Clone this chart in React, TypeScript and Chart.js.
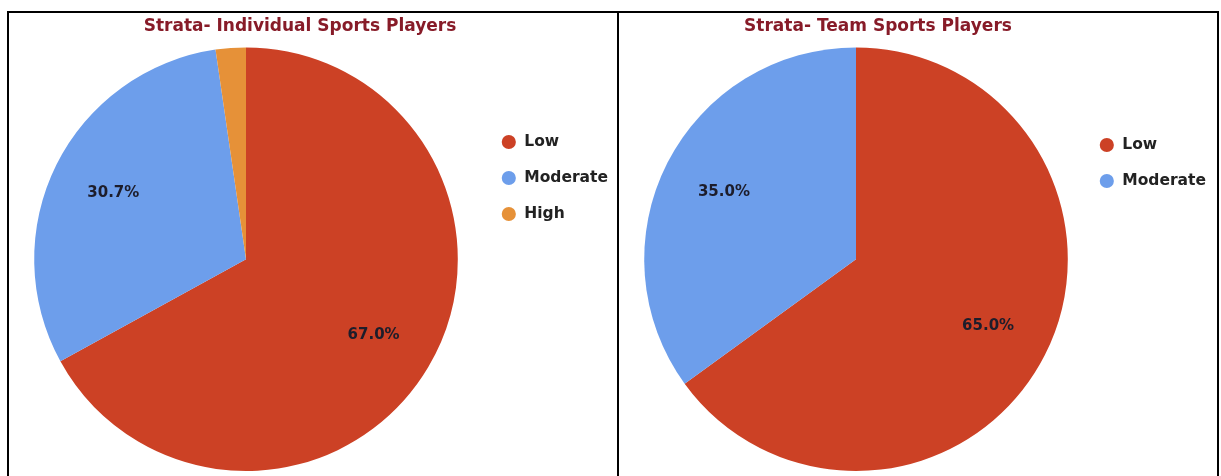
import React, { useEffect, useRef } from 'react';
import { Chart, registerables } from 'chart.js';

Chart.register(...registerables);

// ---- data ----
const categoriesIndividual = ['Low', 'Moderate', 'High'];
const valuesIndividual = [67.0, 30.7, 2.3];
const categoriesTeam = ['Low', 'Moderate'];
const valuesTeam = [65.0, 35.0];
const sliceColors = ['#cc4125', '#6d9eeb', '#e69138'];
const titleIndividual = 'Strata- Individual Sports Players';
const titleTeam = 'Strata- Team Sports Players';

const FONT = "'DejaVu Sans', 'Liberation Sans', sans-serif";
const LEGEND_FS = 15.5;
const LEGEND_PAD = 20.5;

const percentLabels = {
  id: 'percentLabels',
  afterDatasetsDraw(chart: any) {
    const ctx = chart.ctx;
    const vals = chart.data.datasets[0].data as number[];
    const total = vals.reduce((a: number, b: number) => a + b, 0);
    const meta = chart.getDatasetMeta(0);
    ctx.save();
    ctx.font = `bold 15px ${FONT}`;
    ctx.fillStyle = '#1d1d2b';
    ctx.textAlign = 'center';
    ctx.textBaseline = 'middle';
    meta.data.forEach((arc: any, i: number) => {
      const frac = vals[i] / total;
      if (frac < 0.05) return;
      const p = arc.getProps(['x', 'y', 'startAngle', 'endAngle', 'outerRadius'], true);
      const mid = (p.startAngle + p.endAngle) / 2;
      const d = p.outerRadius * 0.7;
      ctx.fillText((frac * 100).toFixed(1) + '%', p.x + Math.cos(mid) * d, p.y + Math.sin(mid) * d);
    });
    ctx.restore();
  },
};

type PieProps = {
  labels: string[];
  values: number[];
  title: string;
  left: number;
  top: number;
  width: number;
  height: number;
  pieCx: number; // desired pie centre, canvas-relative
  legendRowY: number; // desired first legend row centre, canvas-relative
};

function PieChart(props: PieProps) {
  const ref = useRef<HTMLCanvasElement | null>(null);
  useEffect(() => {
    if (!ref.current) return;
    const chart = new Chart(ref.current, {
      type: 'pie',
      data: {
        labels: props.labels,
        datasets: [
          {
            data: props.values,
            backgroundColor: sliceColors.slice(0, props.values.length),
            borderWidth: 0,
          },
        ],
      },
      options: {
        animation: false,
        responsive: false,
        layout: { padding: { top: 0, bottom: 5, left: 0, right: 0 } },
        plugins: {
          title: {
            display: true,
            text: props.title,
            color: '#871b28',
            font: { family: FONT, size: 17, weight: 'bold' },
            padding: { top: 3, bottom: 11 },
          },
          subtitle: {
            display: true,
            position: 'left',
            text: ' ',
            font: { size: 1 },
            padding: { top: 0, bottom: 0 },
          },
          legend: {
            position: 'right',
            align: 'start',
            title: { display: true, text: ' ', font: { size: 1 }, padding: { top: 0, bottom: 0 } },
            labels: {
              usePointStyle: true,
              pointStyle: 'circle',
              boxWidth: LEGEND_FS,
              boxHeight: 10,
              padding: LEGEND_PAD,
              color: '#222222',
              font: { family: FONT, size: LEGEND_FS, weight: 'bold' },
            },
          },
          tooltip: { enabled: false },
        },
      } as any,
      plugins: [percentLabels],
    });
    // position tuning based on the laid-out legend
    const lg: any = chart.legend;
    const S = 2 * props.pieCx - chart.width + lg.width;
    (chart.options.plugins as any).subtitle.padding = { top: 0, bottom: Math.max(0, S - 1.2) };
    const th = props.legendRowY - LEGEND_FS / 2 - LEGEND_PAD - lg.top;
    (chart.options.plugins as any).legend.title.padding = { top: Math.max(0, th - 1.2), bottom: 0 };
    chart.update();
    return () => chart.destroy();
  }, []);
  return (
    <canvas
      ref={ref}
      width={props.width}
      height={props.height}
      style={{ position: 'absolute', left: props.left, top: props.top, width: props.width, height: props.height }}
    />
  );
}

export default function App() {
  const line = { position: 'absolute' as const, background: '#000', zIndex: 5 };
  return (
    <div style={{ position: 'fixed', left: 0, top: 0, width: 1221, height: 476, background: '#fff', overflow: 'hidden' }}>
      <PieChart
        labels={categoriesIndividual}
        values={valuesIndividual}
        title={titleIndividual}
        left={-18}
        top={13}
        width={636}
        height={463}
        pieCx={264}
        legendRowY={129}
      />
      <PieChart
        labels={categoriesTeam}
        values={valuesTeam}
        title={titleTeam}
        left={540}
        top={13}
        width={676}
        height={463}
        pieCx={316}
        legendRowY={132}
      />
      <div style={{ ...line, left: 7, top: 11, width: 1212, height: 2 }} />
      <div style={{ ...line, left: 7, top: 11, width: 2, height: 465 }} />
      <div style={{ ...line, left: 617, top: 11, width: 2, height: 465 }} />
      <div style={{ ...line, left: 1217, top: 11, width: 2, height: 465 }} />
    </div>
  );
}
